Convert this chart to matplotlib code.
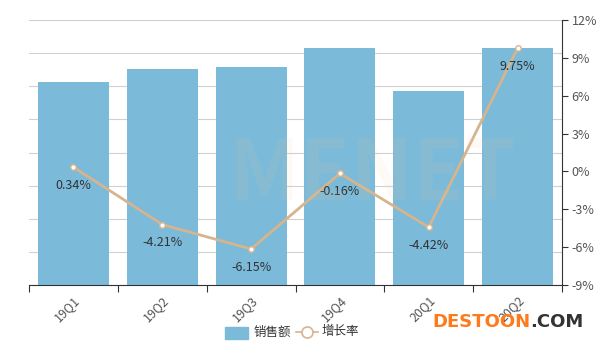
import matplotlib.pyplot as plt
import numpy as np

plt.rcParams['font.family'] = ['Noto Sans CJK SC', 'DejaVu Sans']

# ── Data ──────────────────────────────────────────────────────────────────────
quarters = ["19Q1", "19Q2", "19Q3", "19Q4", "20Q1", "20Q2"]
sales = [6.12, 6.52, 6.58, 7.16, 5.86, 7.16]          # left axis is hidden
growth = [0.34, -4.21, -6.15, -0.16, -4.42, 9.75]      # percent
right_ticks = [-9, -6, -3, 0, 3, 6, 9, 12]

BAR_COLOR = "#7bbad9"
LINE_COLOR = "#d6b48e"
TEXT_COLOR = "#555555"

fig = plt.figure(figsize=(6.04, 3.45), dpi=100)
ax = fig.add_axes([29 / 604, 60 / 345, 533 / 604, 265 / 345])
x = np.arange(len(quarters))

ax.bar(x, sales, width=0.8, color=BAR_COLOR, zorder=2)
ax.set_xlim(-0.5, len(quarters) - 0.5)
ax.set_ylim(0, 8)
ax.set_yticks(np.arange(0, 9, 1))
ax.grid(axis="y", color="#d0d0d0", linewidth=0.8, zorder=0)
ax.set_axisbelow(True)

for s in ["top", "left", "right"]:
    ax.spines[s].set_visible(False)
ax.spines["bottom"].set_color("#333333")

# category ticks at boundaries, labels centred
ax.set_xticks(np.arange(-0.5, len(quarters), 1))
ax.set_xticklabels([])
ax.tick_params(axis="x", length=5, color="#333333")
ax.set_xticks(x, minor=True)
ax.set_xticklabels(quarters, minor=True, rotation=45, ha="right",
                   rotation_mode="anchor", fontsize=9, color=TEXT_COLOR)
ax.tick_params(axis="x", which="minor", length=0, pad=6)

# growth rate on right axis
ax2 = ax.twinx()
ax.tick_params(axis="y", which="both", left=False, right=False,
               labelleft=False, labelright=False)
ax2.set_ylim(-9, 12)
ax2.set_yticks(right_ticks)
ax2.set_yticklabels([f"{t}%" for t in right_ticks], fontsize=9, color=TEXT_COLOR)
ax2.tick_params(axis="y", length=4, color="#333333", pad=3)
for s in ["top", "left", "bottom"]:
    ax2.spines[s].set_visible(False)
ax2.spines["right"].set_color("#333333")

ax2.plot(x, growth, color=LINE_COLOR, linewidth=2, marker="o", markersize=4,
         markerfacecolor="white", markeredgecolor=LINE_COLOR, zorder=5)
for xi, g in zip(x, growth):
    ax2.annotate(f"{g:.2f}%", (xi, g), xytext=(0, -13), textcoords="offset points",
                 ha="center", va="center", fontsize=9, color="#333333", zorder=6)

# watermark
fig.text(372 / 604, 1 - 175 / 345, "MENET", fontsize=60, fontweight="bold",
         color="#f5c89a", alpha=0.1, ha="center", va="center")

# legend
fig.patches.append(plt.Rectangle((225 / 604, 1 - 339 / 345), 23 / 604, 12 / 345,
                                 transform=fig.transFigure, color=BAR_COLOR))
fig.text(254 / 604, 1 - 332 / 345, "销售额", fontsize=9, color="#333333", va="center")
fig.add_artist(plt.Line2D([296 / 604, 318 / 604], [1 - 332 / 345] * 2,
                          transform=fig.transFigure, color=LINE_COLOR, linewidth=1.2))
fig.add_artist(plt.Line2D([307 / 604], [1 - 332 / 345], transform=fig.transFigure,
                          marker="o", markersize=8, markerfacecolor="white",
                          markeredgecolor=LINE_COLOR, markeredgewidth=1.2))
fig.text(322 / 604, 1 - 332 / 345, "增长率", fontsize=9, color="#333333", va="center")

# site mark
fig.text(432 / 604, 1 - 322 / 345, "DESTOON", fontsize=13, fontweight="bold",
         family="DejaVu Sans", color="#ff7a1a", va="center")
fig.text(530 / 604, 1 - 322 / 345, ".COM", fontsize=13, fontweight="bold",
         family="DejaVu Sans", color="#333333", va="center")

fig.savefig("out.png", dpi=100)
